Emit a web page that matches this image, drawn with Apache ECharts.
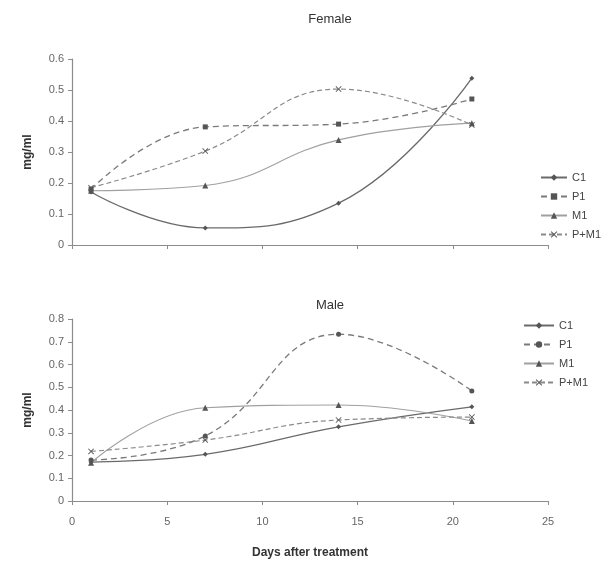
<!DOCTYPE html>
<html><head><meta charset="utf-8">
<script src="https://cdn.jsdelivr.net/npm/echarts@6/dist/echarts.min.js"></script>
<style>html,body{margin:0;padding:0;background:#fff}#c{width:604px;height:565px}</style>
</head><body><div id="c"></div>
<script>
const days = [1, 7, 14, 21];
const seriesNames = ['C1', 'P1', 'M1', 'P+M1'];
const femaleC1 = [0.171, 0.055, 0.135, 0.538];
const femaleP1 = [0.180, 0.381, 0.390, 0.471];
const femaleM1 = [0.175, 0.192, 0.339, 0.393];
const femalePM1 = [0.185, 0.303, 0.503, 0.387];
const maleC1 = [0.171, 0.205, 0.326, 0.414];
const maleP1 = [0.180, 0.286, 0.733, 0.484];
const maleM1 = [0.168, 0.410, 0.422, 0.352];
const malePM1 = [0.218, 0.268, 0.356, 0.369];
const xTicks = [0, 5, 10, 15, 20, 25];

const xPath = 'path://M0,1L1,0L5,4L9,0L10,1L6,5L10,9L9,10L5,6L1,10L0,9L4,5Z';
const styles = {
  'C1':   {type: 'solid',  width: 1.3, color: '#6a6a6a', symbol: 'diamond', size: 5},
  'P1':   {type: [6, 4],   width: 1.3, color: '#7a7a7a', symbol: 'rect', size: 5},
  'M1':   {type: 'solid',  width: 1.1, color: '#a0a0a0', symbol: 'triangle', size: 6},
  'P+M1': {type: [5, 3],   width: 1.2, color: '#8a8a8a', symbol: xPath, size: 6}
};
const maleSymbols = {'C1': 'diamond', 'P1': 'circle', 'M1': 'triangle', 'P+M1': xPath};

function mk(name, vals, idx, symOverride, seriesName) {
  const s = styles[name];
  return {
    name: seriesName || name, type: 'line', xAxisIndex: idx, yAxisIndex: idx,
    data: days.map((d, i) => [d, vals[i]]),
    smooth: 0.45,
    symbol: symOverride || s.symbol, symbolSize: s.size,
    lineStyle: {type: s.type, width: s.width, color: s.color},
    itemStyle: {color: '#555'},
    emphasis: {disabled: true},
    animation: false
  };
}

const font = 'Liberation Sans, Arial';
const axisLine = {show: true, lineStyle: {color: '#8c8c8c', width: 1.2}};
const tick = {show: true, inside: false, length: 4, lineStyle: {color: '#8c8c8c'}};
const yLabel = {color: '#666', fontSize: 11, fontFamily: font, margin: 8, formatter: v => v === 0 ? '0' : v.toFixed(1)};
const nameStyle = {fontSize: 12, fontWeight: 'bold', color: '#333', fontFamily: font};
const legendText = {color: '#444', fontSize: 11, fontFamily: font};

const chart = echarts.init(document.getElementById('c'), null, {renderer: 'canvas'});
chart.setOption({
  backgroundColor: '#fff',
  animation: false,
  title: [
    {text: 'Female', left: 325, top: 8, textAlign: 'center', textStyle: {fontSize: 13, fontWeight: 'normal', color: '#333', fontFamily: font}},
    {text: 'Male', left: 325, top: 294, textAlign: 'center', textStyle: {fontSize: 13, fontWeight: 'normal', color: '#333', fontFamily: font}}
  ],
  legend: [
    {data: seriesNames.map(n => ({name: n})), orient: 'vertical', left: 535, top: 167, itemGap: 8, itemWidth: 26, itemHeight: 8,
     textStyle: legendText, selectedMode: false},
    {data: seriesNames.map(n => ({name: n + ' '})), orient: 'vertical', left: 518, top: 315, itemGap: 8, itemWidth: 30, itemHeight: 8,
     textStyle: legendText, selectedMode: false}
  ],
  grid: [
    {left: 72, top: 59, width: 476, height: 186},
    {left: 72, top: 319, width: 476, height: 182}
  ],
  xAxis: [
    {type: 'value', gridIndex: 0, min: 0, max: 25, interval: 5, axisLine: axisLine, axisTick: tick,
     axisLabel: {show: false}, splitLine: {show: false}},
    {type: 'value', gridIndex: 1, min: 0, max: 25, interval: 5, axisLine: axisLine, axisTick: tick,
     axisLabel: {color: '#666', fontSize: 11, fontFamily: font, margin: 15,
       formatter: v => xTicks.includes(v) ? String(v) : ''},
     splitLine: {show: false},
     name: 'Days after treatment', nameLocation: 'middle', nameGap: 46, nameTextStyle: nameStyle}
  ],
  yAxis: [
    {type: 'value', gridIndex: 0, min: 0, max: 0.6, interval: 0.1, axisLine: axisLine, axisTick: tick,
     axisLabel: yLabel, splitLine: {show: false},
     name: 'mg/ml', nameLocation: 'middle', nameGap: 38, nameTextStyle: nameStyle},
    {type: 'value', gridIndex: 1, min: 0, max: 0.8, interval: 0.1, axisLine: axisLine, axisTick: tick,
     axisLabel: yLabel, splitLine: {show: false},
     name: 'mg/ml', nameLocation: 'middle', nameGap: 38, nameTextStyle: nameStyle}
  ],
  series: [
    mk('C1', femaleC1, 0), mk('P1', femaleP1, 0), mk('M1', femaleM1, 0), mk('P+M1', femalePM1, 0),
    mk('C1', maleC1, 1, maleSymbols['C1'], 'C1 '),
    mk('P1', maleP1, 1, maleSymbols['P1'], 'P1 '),
    mk('M1', maleM1, 1, maleSymbols['M1'], 'M1 '),
    mk('P+M1', malePM1, 1, maleSymbols['P+M1'], 'P+M1 ')
  ]
});
</script></body></html>
